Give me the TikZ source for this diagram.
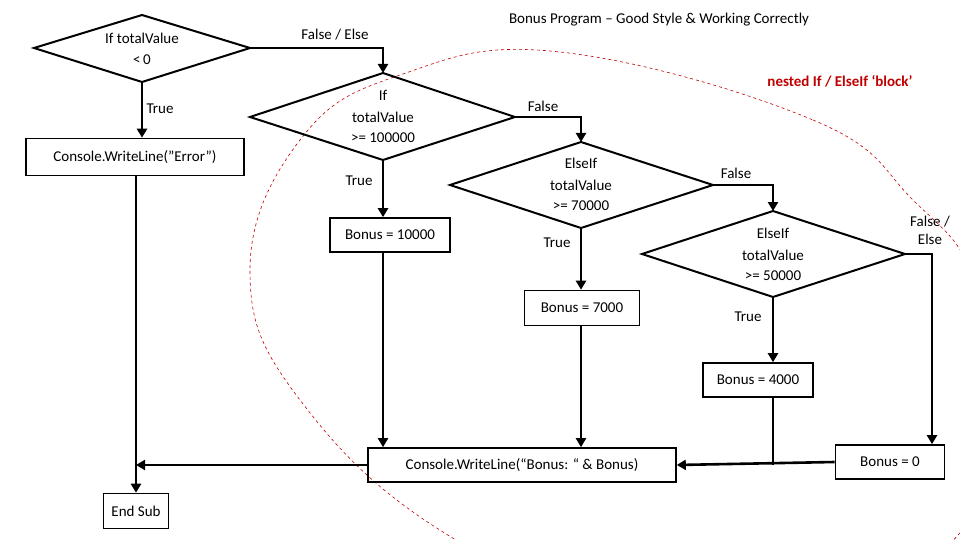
\documentclass[tikz,border=0pt]{standalone}
\usepackage{fontspec}
\setmainfont{Carlito}
\usetikzlibrary{shapes.geometric,arrows.meta}
\begin{document}
\begin{tikzpicture}[x=1pt,y=-1pt,
  every node/.style={font=\fontsize{15}{18}\selectfont},
  box/.style={draw,line width=1.6pt,inner sep=0pt},
  lbl/.style={inner sep=0pt,align=center},
  flow/.style={line width=2.6pt,-{Triangle[length=9pt,width=10pt]}},
  plain/.style={line width=2.6pt},
  dia/.style={draw,line width=2pt}]
\useasboundingbox (0,0) rectangle (960,540);
% dashed red region
\begin{scope}
\clip (0,0) rectangle (960,540);
\draw[red!75!black,dashed,line width=0.6pt] plot[smooth cycle,tension=0.7] coordinates
 {(560,52) (813,120) (913,200) (975,280) (1000,420) (930,560) (700,640) (456,540) (300,400) (250,270) (300,140) (400,75)};
\end{scope}
% shapes
\node[dia,draw=none] (d1) at (142,48) {};
\draw[dia] (34,48) coordinate (d1l) -- (142,15) coordinate (d1t) -- (250,48) coordinate (d1r) -- (142,82) coordinate (d1b) -- cycle;
\node[lbl] (d1a) at (142,38) {If totalValue};
\node[lbl] (d1c) at (142,60) {<\,0};
\draw[dia] (250,117) coordinate (d2l) -- (383,73) coordinate (d2t) -- (515,117) coordinate (d2r) -- (383,160) coordinate (d2b) -- cycle;
\node[lbl] (d2a) at (383,95) {If};
\node[lbl] (d2c) at (383,117) {totalValue};
\node[lbl] (d2d) at (383,138) {>= 100000};
\draw[dia] (450,185) coordinate (d3l) -- (581,142) coordinate (d3t) -- (713,185) coordinate (d3r) -- (581,228) coordinate (d3b) -- cycle;
\node[lbl] (d3a) at (581,163) {ElseIf};
\node[lbl] (d3c) at (581,185) {totalValue};
\node[lbl] (d3d) at (581,206) {>= 70000};
\draw[dia] (642,254) coordinate (d4l) -- (773,211) coordinate (d4t) -- (905,254) coordinate (d4r) -- (773,297) coordinate (d4b) -- cycle;
\node[lbl] (d4a) at (773,233) {ElseIf};
\node[lbl] (d4c) at (773,255) {totalValue};
\node[lbl] (d4d) at (773,276) {>= 50000};
\node[box,minimum width=218pt,minimum height=37pt] (err) at (135,157) {Console.WriteLine("Error")};
\node[box,minimum width=120pt,minimum height=34pt] (b1) at (390,235) {Bonus = 10000};
\node[box,minimum width=115pt,minimum height=35pt] (b2) at (582,308) {Bonus = 7000};
\node[box,minimum width=110pt,minimum height=34pt] (b3) at (758,380) {Bonus = 4000};
\node[box,minimum width=109pt,minimum height=34pt] (b4) at (890,462) {Bonus = 0};
\node[box,minimum width=308pt,minimum height=34pt] (out) at (522,465) {Console.WriteLine(“Bonus: “ \& Bonus)};
\node[box,minimum width=65pt,minimum height=35pt] (end) at (136,511) {End Sub};
% labels
\node[lbl] (title) at (659,20) {Bonus Program – Good Style \& Working Correctly};
\node[lbl,text=red!75!black,font=\bfseries\fontsize{15}{18}\selectfont] (nest) at (840,81) {nested If / ElseIf ‘block’};
\node[lbl] (t1) at (160,109) {True};
\node[lbl] (f1) at (335,35) {False / Else};
\node[lbl] (t2) at (359,181) {True};
\node[lbl] (f2) at (543,106) {False};
\node[lbl] (t3) at (557,243) {True};
\node[lbl] (f3) at (736,173) {False};
\node[lbl] (t4) at (748,317) {True};
\node[lbl] (f4) at (930,230) {False /\\Else};
% connectors
\draw[flow] (d1b) -- (err.north -| d1b);
\draw[flow] (d1r) -| (d2t);
\draw[flow] (d2b) -- (d2b |- b1.north);
\draw[flow] (d2r) -| (d3t);
\draw[flow] (d3b) -- (d3b |- b2.north);
\draw[flow] (d3r) -| (d4t);
\draw[flow] (d4b) -- (d4b |- b3.north);
\coordinate (c4) at (932,254);
\draw[flow] (d4r) -- (c4) -- (c4 |- b4.north);
\draw[flow,line width=2pt] (b1.south -| d2b) -- (out.north -| d2b);
\draw[flow,line width=2pt] (b2.south -| d3b) -- (out.north -| d3b);
\draw[flow] (b4.west) -- (out.east);
\draw[line width=2pt] (b3.south -| d4b) -- (out.east -| d4b);
\draw[flow] (err.south -| end.north) -- (end.north);
\draw[flow] (out.west) -- (out.west -| end.north);
\end{tikzpicture}
\end{document}
